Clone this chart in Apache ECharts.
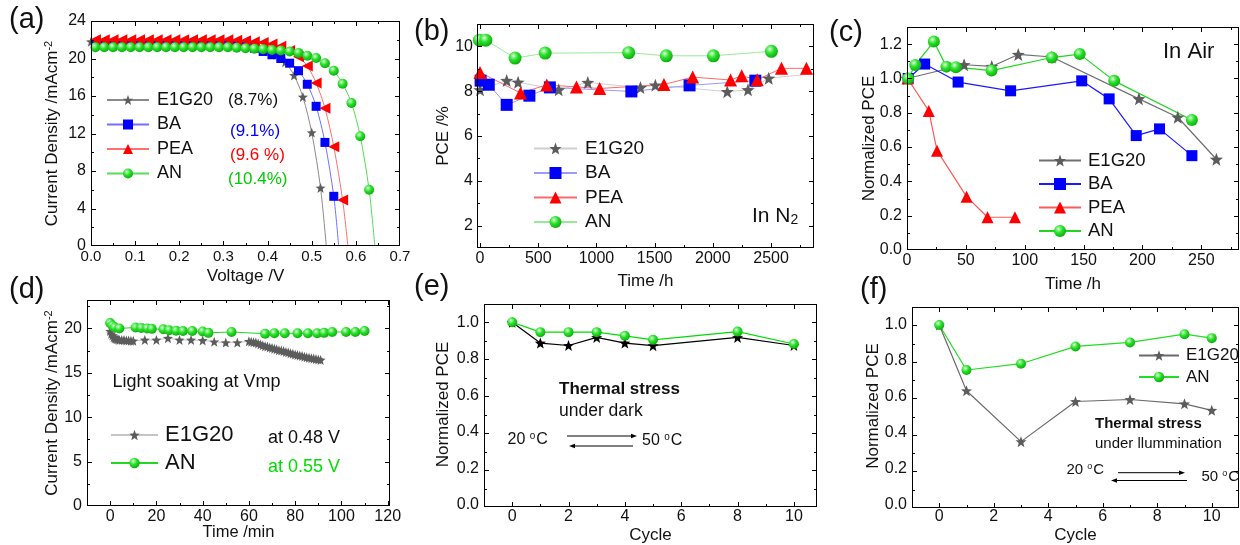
<!DOCTYPE html>
<html>
<head>
<meta charset="utf-8">
<script src="https://cdn.jsdelivr.net/npm/echarts@6.0.0/dist/echarts.min.js"></script>
<style>
html, body { margin: 0; padding: 0; background: #fff; }
#chart { width: 1240px; height: 545px; }
</style>
</head>
<body>
<div id="chart"></div>
<script>
// ---------- (a) J-V curves ----------
const jvVoltE1G20 = [0,0.02,0.04,0.06,0.08,0.10,0.12,0.14,0.16,0.18,0.20,0.22,0.24,0.26,0.28,0.30,0.32,0.34,0.36,0.38,0.40,0.42,0.44,0.46,0.48,0.50,0.52];
const jvCurrE1G20 = [21.8,21.8,21.8,21.8,21.8,21.8,21.8,21.8,21.8,21.8,21.8,21.75,21.75,21.75,21.75,21.75,21.7,21.65,21.55,21.3,20.95,20.4,19.6,18.2,15.9,12.1,6.2];
const jvVoltBA = [0.01,0.03,0.05,0.07,0.09,0.11,0.13,0.15,0.17,0.19,0.21,0.23,0.25,0.27,0.29,0.31,0.33,0.35,0.37,0.39,0.41,0.43,0.45,0.47,0.49,0.51,0.53,0.55];
const jvCurrBA = [21.6,21.6,21.6,21.6,21.6,21.6,21.6,21.6,21.6,21.6,21.6,21.6,21.6,21.6,21.6,21.55,21.5,21.35,21.1,20.75,20.4,20.0,19.5,18.7,17.25,14.9,11.05,5.3];
const jvVoltPEA = [0.01,0.03,0.05,0.07,0.09,0.11,0.13,0.15,0.17,0.19,0.21,0.23,0.25,0.27,0.29,0.31,0.33,0.35,0.37,0.39,0.41,0.43,0.45,0.47,0.49,0.51,0.53,0.55,0.57];
const jvCurrPEA = [22.0,22.0,22.0,22.0,22.0,22.0,22.0,22.0,22.0,22.0,22.0,22.0,22.0,22.0,22.0,22.0,21.95,21.9,21.8,21.7,21.55,21.3,20.85,20.2,19.2,17.4,14.7,10.6,4.9];
const jvVoltAN = [0.01,0.03,0.05,0.07,0.09,0.11,0.13,0.15,0.17,0.19,0.21,0.23,0.25,0.27,0.29,0.31,0.33,0.35,0.37,0.39,0.41,0.43,0.45,0.47,0.49,0.51,0.53,0.55,0.57,0.59,0.61,0.63];
const jvCurrAN = [21.2,21.2,21.2,21.2,21.2,21.2,21.2,21.2,21.2,21.2,21.2,21.2,21.2,21.2,21.2,21.2,21.15,21.1,21.05,21.0,20.9,20.85,20.75,20.6,20.3,20.05,19.5,18.7,17.3,15.25,11.7,6.0];
const vocE1G20 = 0.533, vocBA = 0.561, vocPEA = 0.582, vocAN = 0.643;
const pceLabels = ['(8.7%)', '(9.1%)', '(9.6 %)', '(10.4%)'];

// ---------- (b) storage in N2 ----------
const n2TimeE1G20 = [0,229,327,676,926,1378,1506,2124,2302,2480,2950];
const n2PceE1G20  = [8.06,8.48,8.40,8.06,8.39,8.16,8.27,7.98,8.06,8.58,8.82];
const n2TimeBA = [5,75,229,424,600,1300,1800,2365];
const n2PceBA  = [8.47,8.29,7.39,7.80,8.17,7.99,8.26,8.47];
const n2TimePEA = [0,348,573,828,1028,1580,1827,2152,2248,2381,2590,2804];
const n2PcePEA  = [8.84,7.92,8.28,8.19,8.12,8.30,8.63,8.50,8.69,8.51,9.02,9.02];
const n2TimeAN = [-5,50,301,560,1277,1600,2005,2503];
const n2PceAN  = [10.28,10.28,9.48,9.70,9.72,9.58,9.58,9.78];

// ---------- (c) storage in air ----------
const airTimeE1G20 = [0,48.5,72,94.5,123,197,230,262.8];
const airNormE1G20 = [1.0,1.08,1.07,1.14,1.125,0.881,0.774,0.529];
const airTimeBA = [1,15,43.4,88,148.4,171.7,194.7,214.5,242];
const airNormBA = [1.0,1.084,0.979,0.928,0.986,0.881,0.667,0.706,0.55];
const airTimePEA = [0.5,18.5,25.5,50.6,68.4,91.7];
const airNormPEA = [1.0,0.811,0.579,0.311,0.191,0.191];
const airTimeAN = [1,7,22.8,33.5,41.5,71.8,123,146.7,176,242];
const airNormAN = [1.0,1.079,1.215,1.069,1.066,1.046,1.122,1.142,0.986,0.758];

// ---------- (d) light soaking at Vmp ----------
const soakTimeE1G20 = [0,0.5,1,1.5,2,2.5,3,3.5,4,5,6,7,8,9,10,15,20,25,30,35,40,45,50,55,
  60,61,62,63,64,65,66,67,68,69,70,71,72,73,74,75,76,77,78,79,80,81,82,83,84,85,86,87,88,89,90,91];
const soakCurrE1G20 = [19.7,19.4,19.2,19.0,18.9,18.85,18.8,18.75,18.7,18.7,18.7,18.65,18.65,18.6,18.6,18.7,18.7,18.9,18.7,18.7,18.65,18.5,18.4,18.4,
  18.55,18.5,18.45,18.4,18.3,18.2,18.1,18.0,17.95,17.85,17.8,17.7,17.65,17.55,17.5,17.45,17.35,17.3,17.2,17.15,17.05,17.0,16.95,16.9,16.8,16.75,16.7,16.65,16.6,16.55,16.5,16.45];
const soakTimeAN = [0,1,2,4,11,13.5,16,18,23,25.5,28.5,31.5,35.5,40,42.5,52.5,67,71,75.5,81,85.5,89.5,92.5,96,102,106,110];
const soakCurrAN = [20.6,20.3,20.1,20.0,20.1,20.05,20.0,19.95,19.9,19.8,19.75,19.7,19.7,19.65,19.5,19.6,19.4,19.45,19.45,19.45,19.45,19.45,19.5,19.6,19.6,19.6,19.7];

// ---------- (e) thermal cycling, dark ----------
const darkCycle = [0,1,2,3,4,5,8,10];
const darkE1G20 = [1.0,0.886,0.873,0.917,0.886,0.872,0.917,0.873];
const darkAN    = [1.0,0.946,0.946,0.946,0.926,0.904,0.949,0.881];

// ---------- (f) thermal cycling, illuminated ----------
const lightCycle = [0,1,3,5,7,9,10];
const lightE1G20 = [1.0,0.635,0.352,0.575,0.586,0.562,0.526];
const lightAN    = [1.0,0.75,0.785,0.881,0.903,0.949,0.927];

// ---------- tick values ----------
const ticksA_x = [0,0.1,0.2,0.3,0.4,0.5,0.6,0.7], minorA_x = [0.05,0.15,0.25,0.35,0.45,0.55,0.65];
const ticksA_y = [0,4,8,12,16,20,24], minorA_y = [2,6,10,14,18,22];
const ticksB_x = [0,500,1000,1500,2000,2500], minorB_x = [250,750,1250,1750,2250,2750];
const ticksB_y = [2,4,6,8,10], minorB_y = [1,3,5,7,9,11];
const ticksC_x = [0,50,100,150,200,250], minorC_x = [25,75,125,175,225,275];
const ticksC_y = [0,0.2,0.4,0.6,0.8,1.0,1.2], minorC_y = [0.1,0.3,0.5,0.7,0.9,1.1];
const ticksD_x = [0,20,40,60,80,100,120], minorD_x = [-10,10,30,50,70,90,110];
const ticksD_y = [0,5,10,15,20], minorD_y = [2.5,7.5,12.5,17.5,22.5];
const ticksE_x = [0,2,4,6,8,10], minorE_x = [-1,1,3,5,7,9];
const ticksE_y = [0,0.2,0.4,0.6,0.8,1.0], minorE_y = [0.1,0.3,0.5,0.7,0.9,1.1];

const FONT = '"Liberation Sans", Arial, Helvetica, sans-serif';
const INK = '#111';
const FRAME = '#000';
const STAR = 'path://M0,-10L2.469,-3.398L9.511,-3.09L3.994,1.298L5.878,8.09L0,4.2L-5.878,8.09L-3.994,1.298L-9.511,-3.09L-2.469,-3.398Z';

function ballFill() {
  return new echarts.graphic.RadialGradient(0.38, 0.33, 0.66, [
    { offset: 0, color: '#f4fff4' },
    { offset: 0.2, color: '#8af58a' },
    { offset: 0.5, color: '#2ae02a' },
    { offset: 1, color: '#0fb00f' }
  ]);
}
const pairs = (xs, ys) => xs.map((x, i) => [x, ys[i]]);
const fmt1 = v => v.toFixed(1);
const fmt0 = v => String(v);

const grids = [], xAxes = [], yAxes = [], series = [], legends = [], graphics = [];

// one-pixel filled bar, used for the plot boxes and their tick marks
function bar(x, y, w, h) {
  graphics.push({ type: 'rect', silent: true, z: 50, shape: { x, y, width: w, height: h }, style: { fill: FRAME } });
}
function seg(x1, y1, x2, y2) {
  graphics.push({ type: 'line', silent: true, z: 50, shape: { x1, y1, x2, y2 }, style: { stroke: FRAME, lineWidth: 1 } });
}

// labelled axis (labels and title only)
function makeAxis(gi, ax, pos) {
  return {
    type: 'value', gridIndex: gi, position: pos, min: ax.min, max: ax.max,
    axisLine: { show: false, onZero: false }, splitLine: { show: false }, axisTick: { show: false },
    axisLabel: { show: true, customValues: ax.ticks, formatter: ax.fmt, fontSize: ax.fontSize || 16,
      fontFamily: FONT, color: INK, margin: ax.margin },
    name: ax.name, nameLocation: 'middle', nameGap: ax.nameGap, nameMoveOverlap: false,
    nameTextStyle: Object.assign({ fontSize: 17, fontFamily: FONT, color: INK }, ax.nameStyle || {})
  };
}

// plot box with inward major/minor ticks on all four sides, same linear value-to-pixel map as the grid
function addFrame(box, xAx, yAx) {
  const [left, top, width, height] = box;
  const mapX = v => left + (v - xAx.min) / (xAx.max - xAx.min) * width;
  const mapY = v => top + height - (v - yAx.min) / (yAx.max - yAx.min) * height;
  const L = left, T = top, R = left + width - 1, B = top + height - 1;
  bar(L, T, width, 1); bar(L, B, width, 1); bar(L, T, 1, height); bar(R, T, 1, height);
  const xt = (vals, len) => vals.forEach(v => {
    if (v <= xAx.min || v >= xAx.max) return;
    const x = Math.round(mapX(v));
    bar(x, B - len + 1, 1, len); bar(x, T, 1, len);
  });
  const yt = (vals, len) => vals.forEach(v => {
    if (v <= yAx.min || v >= yAx.max) return;
    const y = Math.round(mapY(v));
    bar(L, y, len, 1); bar(R - len + 1, y, len, 1);
  });
  xt(xAx.ticks, 5); xt(xAx.minor, 3); yt(yAx.ticks, 5); yt(yAx.minor, 3);
}

function addPanel(id, box, xAx, yAx) {
  const gi = grids.length;
  grids.push({ left: box[0], top: box[1], width: box[2], height: box[3], show: false, containLabel: false });
  const xi = xAxes.length, yi = yAxes.length;
  xAxes.push(makeAxis(gi, xAx, 'bottom'));
  yAxes.push(makeAxis(gi, yAx, 'left'));
  addFrame(box, xAx, yAx);
  return { id, xi, yi };
}

const MARK = {
  E1G20: { symbol: STAR, color: '#5c5c5c' },
  BA: { symbol: 'rect', color: '#0000ff' },
  PEA: { symbol: 'triangle', color: '#ff0000' },
  AN: { symbol: 'circle', color: ballFill() }
};

function addLine(p, key, data, o) {
  const m = MARK[key];
  series.push({
    name: p.id + ':' + key, type: 'line', xAxisIndex: p.xi, yAxisIndex: p.yi, data,
    symbol: o.symbol || m.symbol, symbolSize: o.size, symbolRotate: o.rotate || 0,
    smooth: o.smooth || false, clip: true, animation: false,
    lineStyle: { color: o.line, width: o.width || 1 },
    itemStyle: { color: o.fill || m.color, borderWidth: 0 },
    emphasis: { disabled: true }
  });
}

function addLegend(p, keys, o) {
  legends.push({
    data: keys.map(k => p.id + ':' + k), orient: 'vertical', left: o.left, top: o.top,
    itemWidth: o.w, itemHeight: o.h, itemGap: o.gap, padding: 0, selectedMode: false,
    symbolRotate: 0, formatter: n => n.split(':')[1],
    textStyle: { fontSize: o.font, fontFamily: FONT, color: INK, padding: [0, 0, 0, o.pad || 1] }
  });
}

function addText(x, y, text, size, color, extra) {
  graphics.push({ type: 'text', x, y, silent: true,
    style: Object.assign({ text, fontSize: size, fontFamily: FONT, fill: color || INK,
      align: 'left', verticalAlign: 'middle', textAlign: 'left', textVerticalAlign: 'middle' }, extra || {}) });
}
function degText(x, y, num, size) {
  addText(x, y, '{n|' + num + ' }{s|o}{n|C}', size, INK, {
    rich: {
      n: { fontSize: size, fontFamily: FONT, fill: INK, color: INK },
      s: { fontSize: Math.round(size * 0.62), fontFamily: FONT, fill: INK, color: INK, padding: [0, 1, Math.round(size * 0.42), 0] }
    }
  });
}
function arrow(x1, x2, y) {
  const dir = x2 > x1 ? 1 : -1;
  seg(x1, y, x2 - dir * 4, y);
  graphics.push({ type: 'polygon', silent: true,
    shape: { points: [[x2, y], [x2 - dir * 6, y - 2.2], [x2 - dir * 6, y + 2.2]] }, style: { fill: '#000' } });
}

const withVoc = (xs, ys, voc) => pairs(xs, ys).concat([{ value: [voc, 0], symbol: 'none' }]);
const supName = { rich: { m: { fontSize: 17, fontFamily: FONT, color: INK },
                          s: { fontSize: 11, fontFamily: FONT, color: INK, padding: [0, 0, 8, 0] } } };

// ===== (a) =====
const axA_x = { min: 0, max: 0.7, ticks: ticksA_x, minor: minorA_x, fmt: fmt1, margin: 3, fontSize: 15, name: 'Voltage /V', nameGap: 22 };
const axA_y = { min: 0, max: 24, ticks: ticksA_y, minor: minorA_y, fmt: fmt0, margin: 5, fontSize: 16,
  name: '{m|Current Density /mAcm}{s|-2}', nameGap: 29, nameStyle: supName };
const pa = addPanel('a', [91, 21, 309, 225], axA_x, axA_y);
addLine(pa, 'E1G20', withVoc(jvVoltE1G20, jvCurrE1G20, vocE1G20), { size: 10, line: '#8a8a8a', smooth: 0.3 });
addLine(pa, 'BA', withVoc(jvVoltBA, jvCurrBA, vocBA), { size: 9, line: '#7070ff', smooth: 0.3 });
addLine(pa, 'PEA', withVoc(jvVoltPEA, jvCurrPEA, vocPEA), { size: 11, rotate: 90, line: '#ff7070', smooth: 0.3 });
addLine(pa, 'AN', withVoc(jvVoltAN, jvCurrAN, vocAN), { size: 10, line: '#55dd55', smooth: 0.3 });
addLegend(pa, ['E1G20', 'BA', 'PEA', 'AN'], { left: 106, top: 91, w: 42, h: 12.5, gap: 6.5, font: 18, pad: 3 });
addText(228, 100, pceLabels[0], 17, '#111');
addText(230, 131.5, pceLabels[1], 17, '#0000ff');
addText(230, 155.5, pceLabels[2], 17, '#ff0000');
addText(228, 179.5, pceLabels[3], 17, '#00cc00');

// ===== (b) =====
const axB_x = { min: -26, max: 2869, ticks: ticksB_x, minor: minorB_x, fmt: fmt0, margin: 3, name: 'Time /h', nameGap: 25 };
const axB_y = { min: 1, max: 11, ticks: ticksB_y, minor: minorB_y, fmt: fmt0, margin: 4, name: 'PCE /%', nameGap: 25 };
const pb = addPanel('b', [477, 24, 337, 224], axB_x, axB_y);
addLine(pb, 'E1G20', pairs(n2TimeE1G20, n2PceE1G20), { size: 13, line: '#cfcfcf' });
addLine(pb, 'BA', pairs(n2TimeBA, n2PceBA), { size: 12, line: '#9a9aff' });
addLine(pb, 'PEA', pairs(n2TimePEA, n2PcePEA), { size: 13, line: '#ff6a6a' });
addLine(pb, 'AN', pairs(n2TimeAN, n2PceAN), { size: 13, line: '#9ae89a' });
addLegend(pb, ['E1G20', 'BA', 'PEA', 'AN'], { left: 533, top: 139, w: 43, h: 15, gap: 5.5, font: 19, pad: 3 });
addText(752, 220, '{n|In N}{s|2}', 21, INK, {
  rich: { n: { fontSize: 21, fontFamily: FONT, fill: INK, color: INK, padding: [0, 0, 8, 0] },
          s: { fontSize: 14, fontFamily: FONT, fill: INK, color: INK } } });

// ===== (c) =====
const axC_x = { min: 0, max: 282, ticks: ticksC_x, minor: minorC_x, fmt: fmt0, margin: 3, name: 'Time /h', nameGap: 26 };
const axC_y = { min: 0, max: 1.3, ticks: ticksC_y, minor: minorC_y, fmt: fmt1, margin: 5, name: 'Normalized PCE', nameGap: 29 };
const pc = addPanel('c', [907, 27, 332, 223], axC_x, axC_y);
addLine(pc, 'E1G20', pairs(airTimeE1G20, airNormE1G20), { size: 13, line: '#707070', width: 1.2 });
addLine(pc, 'BA', pairs(airTimeBA, airNormBA), { size: 11, line: '#1a1aff', width: 1.2 });
addLine(pc, 'PEA', pairs(airTimePEA, airNormPEA), { size: 12, line: '#ff5a5a', width: 1.2 });
addLine(pc, 'AN', pairs(airTimeAN, airNormAN), { size: 12, line: '#1ed81e', width: 1.2 });
addLegend(pc, ['E1G20', 'BA', 'PEA', 'AN'], { left: 1038, top: 151, w: 42, h: 15, gap: 4.5, font: 18.5, pad: 2 });
addText(1163, 51.5, 'In Air', 22, INK);

// ===== (d) =====
const axD_x = { min: -10, max: 121, ticks: ticksD_x, minor: minorD_x, fmt: fmt0, margin: 3, name: 'Time /min', nameGap: 18, nameStyle: { fontSize: 16.5 } };
const axD_y = { min: 0, max: 23.2, ticks: ticksD_y, minor: minorD_y, fmt: fmt0, margin: 5,
  name: '{m|Current Density /mAcm}{s|-2}', nameGap: 25, nameStyle: supName };
const pd = addPanel('d', [87, 300, 303, 206], axD_x, axD_y);
addLine(pd, 'E1G20', pairs(soakTimeE1G20, soakCurrE1G20), { size: 10, line: '#c4c4c4' });
addLine(pd, 'AN', pairs(soakTimeAN, soakCurrAN), { size: 10, line: '#22d822' });
addLegend(pd, ['E1G20', 'AN'], { left: 110, top: 424, w: 47, h: 13, gap: 6, font: 22, pad: 2 });
addText(112.5, 382, 'Light soaking at Vmp', 18, INK);
addText(268, 438, 'at 0.48 V', 18, INK);
addText(268, 467.5, 'at 0.55 V', 18, '#00dd00');

// ===== (e) =====
const axE_x = { min: -1, max: 10.82, ticks: ticksE_x, minor: minorE_x, fmt: fmt0, margin: 4, name: 'Cycle', nameGap: 22 };
const axE_y = { min: 0, max: 1.1, ticks: ticksE_y, minor: minorE_y, fmt: fmt1, margin: 5, name: 'Normalized PCE', nameGap: 32 };
const pe = addPanel('e', [484, 304, 333, 203], axE_x, axE_y);
addLine(pe, 'E1G20', pairs(darkCycle, darkE1G20), { size: 11, line: '#000', width: 1.2, fill: '#000' });
addLine(pe, 'AN', pairs(darkCycle, darkAN), { size: 10, line: '#00dd00', width: 1.2 });
addText(559, 389, 'Thermal stress', 17, INK, { fontWeight: 'bold' });
addText(559, 411, 'under dark', 17.5, INK);
degText(507.5, 440, '20', 16);
degText(642, 441, '50', 16);
arrow(567, 637, 436);
arrow(633, 569, 446);

// ===== (f) =====
const axF_x = { min: -1, max: 11, ticks: ticksE_x, minor: minorE_x, fmt: fmt0, margin: 4, name: 'Cycle', nameGap: 22 };
const axF_y = { min: 0, max: 1.1, ticks: ticksE_y, minor: minorE_y, fmt: fmt1, margin: 5, name: 'Normalized PCE', nameGap: 30 };
const pf = addPanel('f', [912, 307, 327, 201], axF_x, axF_y);
addLine(pf, 'E1G20', pairs(lightCycle, lightE1G20), { size: 11, line: '#6a6a6a', width: 1.2 });
addLine(pf, 'AN', pairs(lightCycle, lightAN), { size: 10, line: '#22dd22', width: 1.2 });
addLegend(pf, ['E1G20', 'AN'], { left: 1138, top: 347, w: 40, h: 13, gap: 4.5, font: 17, pad: 2 });
addText(1095, 424, 'Thermal stress', 15, INK, { fontWeight: 'bold' });
addText(1095, 443.5, 'under llummination', 15, INK);
degText(1066.5, 470, '20', 15);
degText(1201.5, 476.5, '50', 15);
arrow(1118, 1185, 472.7);
arrow(1187, 1111, 480.5);

// ----- panel tags -----
[['(a)', 9, 20], ['(b)', 414, 32], ['(c)', 829, 33], ['(d)', 9, 290], ['(e)', 414, 287], ['(f)', 860, 290]]
  .forEach(([t, x, y]) => addText(x, y, t, 29, INK));

const chart = echarts.init(document.getElementById('chart'), null, { renderer: 'canvas' });
chart.setOption({
  backgroundColor: '#fff',
  animation: false,
  textStyle: { fontFamily: FONT },
  grid: grids, xAxis: xAxes, yAxis: yAxes, series, legend: legends, graphic: graphics
});
</script>
</body>
</html>
